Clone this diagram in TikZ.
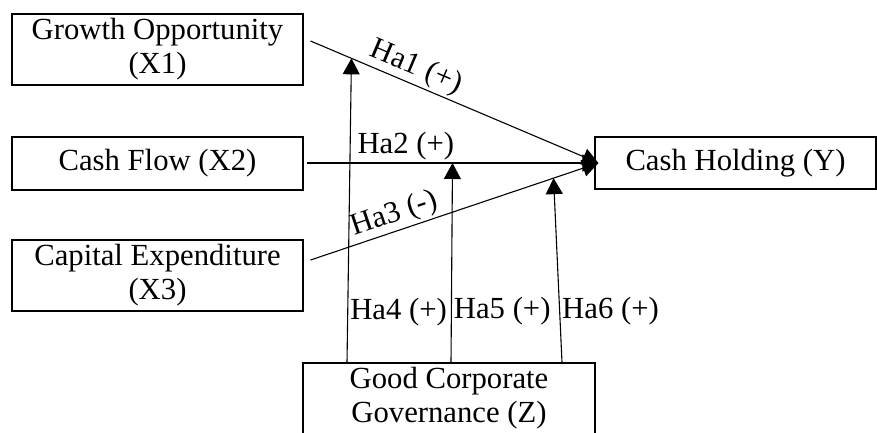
\documentclass[tikz,border=0pt]{standalone}
\usepackage{fontspec}
\setmainfont{Liberation Serif}
\usetikzlibrary{arrows.meta}

\begin{document}
\begin{tikzpicture}[x=1pt, y=-1pt, line width=1.1pt, >={Triangle[length=16pt,width=17pt]},
  every var/.style={draw, align=center, inner sep=0pt, minimum width=291pt,
    minimum height=71pt, font=\fontsize{30.7}{34}\selectfont},
  var 2/.style={minimum height=53pt},
  hyp/.style={inner sep=2pt, font=\fontsize{30.7}{34}\selectfont}]

\useasboundingbox (0,0) rectangle (877,432);

\foreach \m/\yy/\t in {1/49.5/{Growth Opportunity\\(X1)}, 2/163.5/{Cash Flow (X2)}, 3/275.5/{Capital Expenditure\\(X3)}}
  \node [every var/.try, var \m/.try] (input-\m) at (157.5,\yy) {\t};

\node [every var/.try, minimum width=281pt, minimum height=52pt] (output) at (735.5,163) {Cash Holding (Y)};
\node [every var/.try, minimum width=292pt] (moderator) at (449,398.5) {Good Corporate\\Governance (Z)};

\foreach \i/\dx/\dy/\m/\l/\p in {1/7/8.5/0.142/{Ha1 (+)}/0.345, 2/3/0.5/0.5/{Ha2 (+)}/0.34, 3/7/15.5/0.844/{Ha3 (-)}/0.31}
  \draw [->] ([xshift=\dx pt, yshift=\dy pt]input-\i.east) -- coordinate [pos=\m] (path-\i)
    node [sloped, above, pos=\p, hyp] {\l} ([xshift=4pt]output.west);

\foreach \i/\dx/\p/\l in {1/-102/0.167/{Ha4 (+)}, 2/2/0.255/{Ha5 (+)}, 3/113/0.276/{Ha6 (+)}}
  \draw [->] ([xshift=\dx pt]moderator.north) -- node [right, pos=\p, hyp] {\l} (path-\i);

\end{tikzpicture}
\end{document}
